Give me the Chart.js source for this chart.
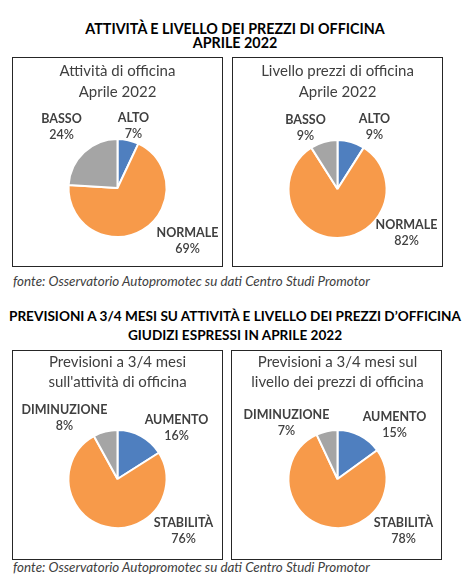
<!DOCTYPE html>
<html>
<head>
<meta charset="utf-8">
<script src="https://cdn.jsdelivr.net/npm/chart.js@4.4.0/dist/chart.umd.min.js"></script>
<style>
  body { margin: 0; width: 470px; height: 583px; background: #fff; position: relative; overflow: hidden; font-family: Lato, 'Open Sans', sans-serif; }
  .head { position: absolute; left: 0; width: 470px; text-align: center; font-weight: bold; color: #000; white-space: nowrap; }
  .box { position: absolute; border: 1px solid #262626; width: 209px; height: 208px; }
  .box canvas { display: block; }
  .src { position: absolute; left: 13px; font-style: italic; font-size: 13.4px; color: #404040; white-space: nowrap; }
</style>
</head>
<body>

<div class="head" style="top:22px;line-height:14px;font-size:14.3px">ATTIVITÀ E LIVELLO DEI PREZZI DI OFFICINA<br>APRILE 2022</div>
<div class="box" style="left:12px;top:57px"><canvas id="c1" width="209" height="208"></canvas></div>
<div class="box" style="left:232px;top:57px"><canvas id="c2" width="209" height="208"></canvas></div>
<div class="src" style="top:273px">fonte: Osservatorio Autopromotec su dati Centro Studi Promotor</div>

<div class="head" style="top:307px;line-height:19px;font-size:13.6px">PREVISIONI A 3/4 MESI SU ATTIVITÀ E LIVELLO DEI PREZZI D’OFFICINA<br>GIUDIZI ESPRESSI IN APRILE 2022</div>
<div class="box" style="left:12px;top:350px"><canvas id="c3" width="209" height="208"></canvas></div>
<div class="box" style="left:231px;top:350px"><canvas id="c4" width="211" height="208"></canvas></div>
<div class="src" style="top:559px">fonte: Osservatorio Autopromotec su dati Centro Studi Promotor</div>

<script>
// giudizi aprile 2022
const livelli = ['ALTO', 'NORMALE', 'BASSO'];
const attivitaOfficina = [7, 69, 24];
const prezziOfficina = [9, 82, 9];

// previsioni a 3/4 mesi
const tendenze = ['AUMENTO', 'STABILITÀ', 'DIMINUZIONE'];
const previsioniAttivita = [16, 76, 8];
const previsioniPrezzi = [15, 78, 7];

const colori = ['#4F7FBF', '#F79A4A', '#A5A5A5'];

// scrive nome e percentuale vicino a ogni fetta
const sliceLabels = {
    id: 'sliceLabels',
    afterDatasetsDraw(chart, args, opts) {
        const ctx = chart.ctx;
        const meta = chart.getDatasetMeta(0);
        const values = chart.data.datasets[0].data;
        const total = values.reduce((a, b) => a + b, 0);
        ctx.save();
        ctx.textAlign = 'center';
        ctx.textBaseline = 'middle';
        ctx.fillStyle = '#404040';
        meta.data.forEach((arc, i) => {
            const x = arc.x + opts.pos[i][0];
            const y = arc.y + opts.pos[i][1];
            ctx.font = 'bold 12.5px Lato';
            ctx.fillText(chart.data.labels[i], x, y - 7);
            ctx.font = '600 12.5px Lato';
            ctx.fillText(Math.round(values[i] / total * 100) + '%', x, y + 9);
        });
        ctx.restore();
    }
};

const makePie = (id, labels, values, title, titleTop, lineH, cy, pos) => {
    const canvas = document.getElementById(id);
    const h = canvas.height;
    const r = 50;
    const titleH = titleTop + 2 * lineH;
    return new Chart(canvas, {
        type: 'pie',
        data: {
            labels: labels,
            datasets: [{
                data: values,
                backgroundColor: colori,
                borderColor: '#fff',
                borderWidth: 2
            }]
        },
        options: {
            responsive: false,
            animation: false,
            layout: {
                padding: { left: 0, right: 0, top: 0, bottom: h - cy - r }
            },
            plugins: {
                legend: { display: false },
                tooltip: { enabled: false },
                title: {
                    display: true,
                    text: title,
                    color: '#404040',
                    font: { family: 'Lato', size: 15, weight: 'normal', lineHeight: lineH / 15 },
                    padding: { top: titleTop, bottom: cy - r - titleH }
                },
                sliceLabels: { pos: pos }
            }
        },
        plugins: [sliceLabels]
    });
};

makePie('c1', livelli, attivitaOfficina, ['Attività di officina', 'Aprile 2022'], 3, 21, 130,
    [[16, -63], [70, 52], [-56, -62]]);
makePie('c2', livelli, prezziOfficina, ['Livello prezzi di officina', 'Aprile 2022'], 3, 21, 131,
    [[37, -63], [69, 43], [-32, -62]]);
makePie('c3', tendenze, previsioniAttivita, ['Previsioni a 3/4 mesi', "sull'attività di officina"], 1, 20, 128,
    [[59, -52], [66, 51], [-53, -62]]);
makePie('c4', tendenze, previsioniPrezzi, ['Previsioni a 3/4 mesi sul', 'livello dei prezzi di officina'], 1, 20, 128,
    [[57, -55], [66, 51], [-51, -57]]);
</script>
</body>
</html>
